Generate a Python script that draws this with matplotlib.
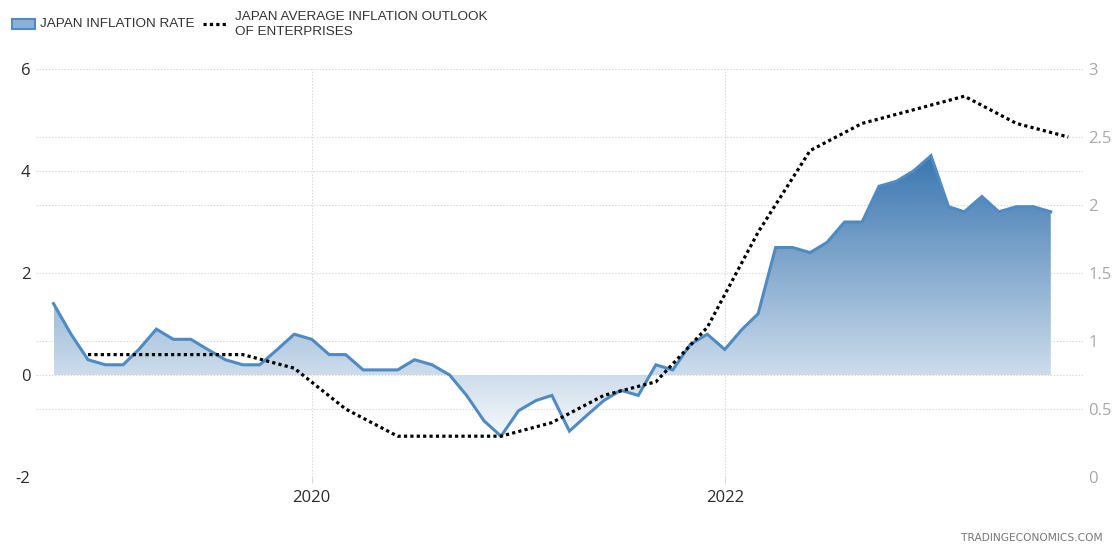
import numpy as np
import pandas as pd
import matplotlib
matplotlib.use("Agg")
import matplotlib.pyplot as plt
import matplotlib.dates as mdates
from matplotlib.colors import LinearSegmentedColormap
from matplotlib.patches import Rectangle
from matplotlib.lines import Line2D
from matplotlib.ticker import FixedLocator, MultipleLocator, FuncFormatter

plt.rcParams["axes.unicode_minus"] = False

# Japan inflation rate (%), monthly, Oct 2018 -> Aug 2023
inflation = [1.4, 0.8, 0.3,
             0.2, 0.2, 0.5, 0.9, 0.7, 0.7, 0.5, 0.3, 0.2, 0.2, 0.5, 0.8,
             0.7, 0.4, 0.4, 0.1, 0.1, 0.1, 0.3, 0.2, 0.0, -0.4, -0.9, -1.2,
             -0.7, -0.5, -0.4, -1.1, -0.8, -0.5, -0.3, -0.4, 0.2, 0.1, 0.6, 0.8,
             0.5, 0.9, 1.2, 2.5, 2.5, 2.4, 2.6, 3.0, 3.0, 3.7, 3.8, 4.0,
             4.3, 3.3, 3.2, 3.5, 3.2, 3.3, 3.3, 3.2]
inflation_start = "2018-10-01"

# average inflation outlook of enterprises (%), quarterly, Dec 2018 -> Sep 2023
outlook = [0.9, 0.9, 0.9, 0.9, 0.8, 0.5, 0.3, 0.3, 0.3, 0.4,
           0.6, 0.7, 1.1, 1.8, 2.4, 2.6, 2.7, 2.8, 2.6, 2.5]
outlook_start = "2018-12-01"

left_lim = (-2, 6)
right_lim = (0, 3)

dates = pd.date_range(inflation_start, periods=len(inflation), freq="MS")
odates = pd.date_range(outlook_start, periods=len(outlook), freq="3MS")

W, H = 1118, 546
fig = plt.figure(figsize=(W / 100, H / 100), dpi=100)
ax = fig.add_axes([36 / W, 69 / H, (1083 - 36) / W, (477 - 69) / H])

blue = "#4f8bc2"
grid_kw = dict(color="#d6d6d6", linestyle=(0, (1.2, 1.6)), linewidth=0.8)

# gradient fill under the inflation line
x0, x1 = mdates.date2num(dates[0]), mdates.date2num(dates[-1])
grad = np.linspace(left_lim[0], left_lim[1], 500).reshape(-1, 1)
cmap = LinearSegmentedColormap.from_list("fill", ["#f6f9fc", "#3a76b0"])
im = ax.imshow(grad, extent=[x0, x1, left_lim[0], left_lim[1]], origin="lower",
               aspect="auto", cmap=cmap, vmin=min(inflation), vmax=max(inflation),
               zorder=1)
poly = ax.fill_between(dates, inflation, 0, facecolor="none", edgecolor="none")
im.set_clip_path(poly.get_paths()[0], transform=ax.transData)
ax.plot(dates, inflation, color=blue, lw=2.2, zorder=2, solid_joinstyle="miter")

ax.set_ylim(*left_lim)
ax.set_xlim(pd.Timestamp("2018-08-31"), pd.Timestamp("2023-09-27"))
ax.yaxis.set_major_locator(MultipleLocator(2))
# right axis grid positions drawn on the left axis so they stay under the fill
rt = np.arange(right_lim[0], right_lim[1] + 0.01, 0.5)
lt = left_lim[0] + (rt - right_lim[0]) / (right_lim[1] - right_lim[0]) * (left_lim[1] - left_lim[0])
ax.yaxis.set_minor_locator(FixedLocator(lt))
ax.xaxis.set_major_locator(mdates.YearLocator(2))
ax.xaxis.set_major_formatter(mdates.DateFormatter("%Y"))
ax.set_axisbelow(True)
ax.grid(True, axis="y", which="both", **grid_kw)
ax.grid(True, axis="x", which="major", **grid_kw)
for s in ax.spines.values():
    s.set_visible(False)
ax.tick_params(axis="y", which="both", length=0, pad=4, labelsize=12,
               labelcolor="#2b2b2b")
ax.tick_params(axis="x", length=4, color="#d8d8d8", pad=5, labelsize=12,
               labelcolor="#2b2b2b")
for lab in ax.get_xticklabels() + ax.get_yticklabels():
    lab.set_fontfamily("Open Sans")

ax2 = ax.twinx()
ax2.plot(odates, outlook, color="black", lw=2.3, linestyle=(0, (1, 1)), zorder=3)
ax2.set_ylim(*right_lim)
ax2.yaxis.set_major_locator(MultipleLocator(0.5))
ax2.yaxis.set_major_formatter(FuncFormatter(lambda v, p: f"{v:g}"))
for s in ax2.spines.values():
    s.set_visible(False)
ax2.tick_params(axis="y", length=0, pad=4, labelsize=12, labelcolor="#a8a8a8")
for lab in ax2.get_yticklabels():
    lab.set_fontfamily("Open Sans")

# legend
fig.patches.append(Rectangle((12 / W, 1 - 29 / H), 23 / W, 10 / H,
                             transform=fig.transFigure, facecolor="#8fb1d5",
                             edgecolor=blue, lw=1.5))
fig.text(40 / W, 1 - 24 / H, "JAPAN INFLATION RATE", va="center", ha="left",
         fontsize=9.7, family="Liberation Sans", color="#333333")
fig.lines.append(Line2D([203 / W, 228 / W], [1 - 24 / H] * 2, transform=fig.transFigure,
                        color="black", lw=2.3, linestyle=(0, (1, 1))))
fig.text(235 / W, 1 - 24.5 / H, "JAPAN AVERAGE INFLATION OUTLOOK\nOF ENTERPRISES",
         va="center", ha="left", fontsize=9.7, family="Liberation Sans",
         color="#333333", linespacing=1.35)

fig.text(1103 / W, 1 - 538 / H, "TRADINGECONOMICS.COM", ha="right", va="center",
         fontsize=7.7, family="DejaVu Sans", color="#777777")

fig.savefig("out.png", dpi=100)
